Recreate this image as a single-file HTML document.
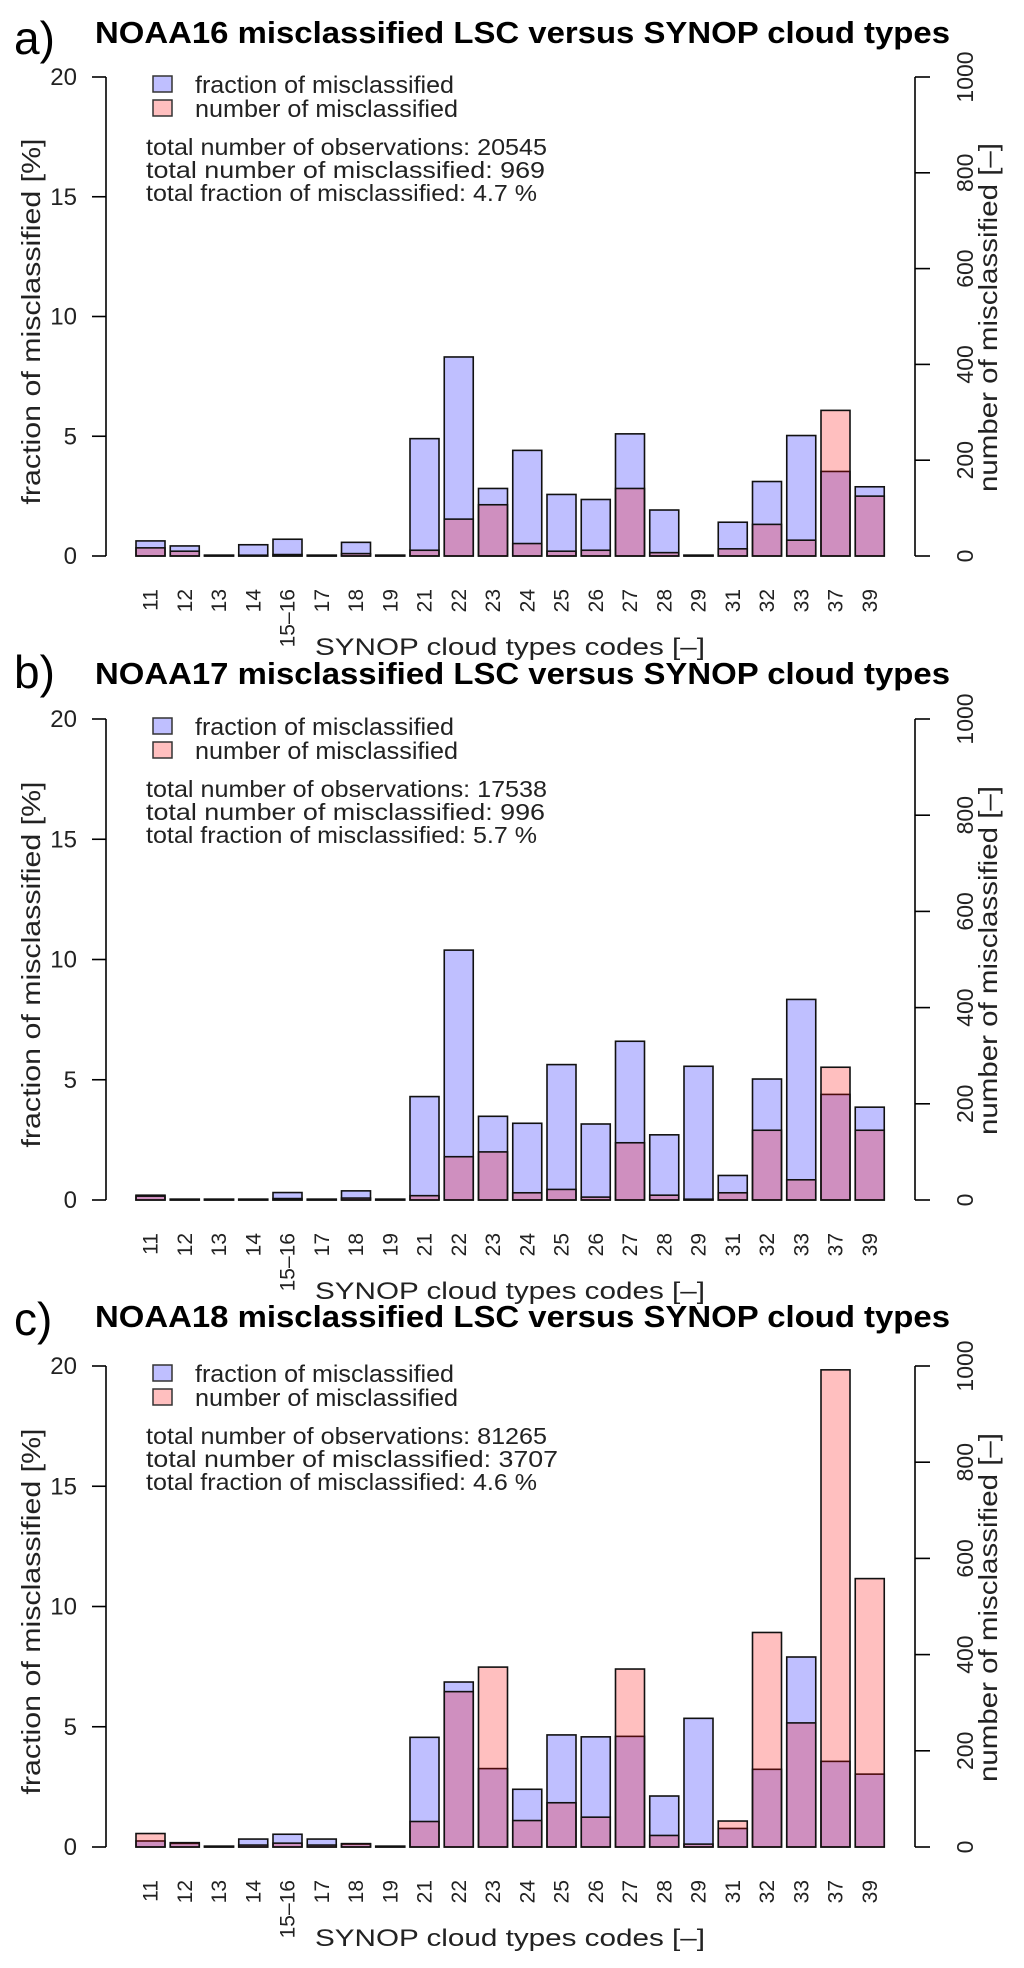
<!DOCTYPE html>
<html><head><meta charset="utf-8"><title>Misclassified LSC vs SYNOP cloud types</title>
<style>
html,body{margin:0;padding:0;background:#fff;}
svg{display:block;font-family:"Liberation Sans",sans-serif;}
</style></head>
<body>
<svg id="chart" width="1024" height="1968" viewBox="0 0 1024 1968" xmlns="http://www.w3.org/2000/svg"></svg>
<script>
const categories = ["11","12","13","14","15\u201316","17","18","19","21","22","23","24","25","26","27","28","29","31","32","33","37","39"];
const fracA  = [0.63,0.42,0,0.47,0.70,0,0.57,0,4.9,8.31,2.82,4.41,2.57,2.36,5.1,1.92,0,1.41,3.11,5.03,3.53,2.89];
const countA = [17,10,0,1,3,0,5,0,12,77,107,26,10,12,141,7,0,15,66,33,304,125];
const fracB  = [0.2,0,0,0,0.31,0,0.38,0,4.3,10.39,3.48,3.19,5.63,3.16,6.6,2.71,5.56,1.02,5.03,8.34,4.39,3.86];
const countB = [8,0,0,0,3,0,4,0,9,90,100,15,22,6,119,10,0,15,145,42,276,145];
const fracC  = [0.25,0.15,0,0.33,0.53,0.33,0.12,0,4.56,6.86,3.26,2.4,4.66,4.58,4.6,2.12,5.35,0.77,3.23,7.9,3.56,3.03];
const countC = [28,9,1,4,8,4,7,0,53,323,374,55,92,62,370,24,6,54,446,258,992,558];
const leftTicks = [0,5,10,15,20];
const rightTicks = [0,200,400,600,800,1000];
const panelLetters = ["a)","b)","c)"];
const panelTitles = ["NOAA16 misclassified LSC versus SYNOP cloud types","NOAA17 misclassified LSC versus SYNOP cloud types","NOAA18 misclassified LSC versus SYNOP cloud types"];
const statObs = ["20545","17538","81265"];
const statMis = ["969","996","3707"];
const statFrac = ["4.7","5.7","4.6"];

const NS = "http://www.w3.org/2000/svg";
const svg = document.getElementById("chart");
function mk(tag, attrs, parent, text){
  const e = document.createElementNS(NS, tag);
  for (const k in attrs) e.setAttribute(k, attrs[k]);
  if (text !== undefined) e.textContent = text;
  (parent || svg).appendChild(e);
  return e;
}
const panels = [
  {frac: fracA, count: countA, top: 77, zero: 556, titleY: 43, letterY: 54},
  {frac: fracB, count: countB, top: 719, zero: 1200, titleY: 684, letterY: 688},
  {frac: fracC, count: countC, top: 1366, zero: 1847, titleY: 1327, letterY: 1335}
];
const X0 = 136, PITCH = 34.25, BW = 29, AXL = 106, AXR = 915;

panels.forEach((p, pi) => {
  const g = mk("g", {});
  
  
  const yL = v => p.zero - (v / 20) * (p.zero - p.top);
  const yR = v => p.zero - (v / 1000) * (p.zero - p.top);
  const xB = i => X0 + i * PITCH;

  const lt = mk("text", {x: 14, y: p.letterY, "font-size": 46}, g, panelLetters[pi]);
  
  
  const tt = mk("text", {x: 95, y: p.titleY, "font-size": 31, "font-weight": "bold", textLength: 855, lengthAdjust: "spacingAndGlyphs"}, g, panelTitles[pi]);
  
  

  const la = mk("line", {x1: AXL, y1: yL(0), x2: AXL, y2: yL(20), stroke: "#000", "stroke-width": 1.6}, g);
  
  
  leftTicks.forEach(t => {
    const tk = mk("line", {x1: 92, y1: yL(t), x2: AXL, y2: yL(t), stroke: "#000", "stroke-width": 1.6}, g);
    
    
    const tl = mk("text", {x: 77, y: yL(t) + 8, "font-size": 24, "text-anchor": "end", fill: "#222"}, g, String(t));
    
    
  });
  const cy = (p.top + p.zero) / 2;
  const yt = mk("text", {x: 0, y: 0, "font-size": 26, "text-anchor": "middle", fill: "#222", transform: `translate(40 ${cy + 5}) rotate(-90)`, textLength: 366, lengthAdjust: "spacingAndGlyphs"}, g, "fraction of misclassified [%]");
  
  

  const ra = mk("line", {x1: AXR, y1: yR(0), x2: AXR, y2: yR(1000), stroke: "#000", "stroke-width": 1.6}, g);
  
  
  rightTicks.forEach(t => {
    const tk = mk("line", {x1: AXR, y1: yR(t), x2: 930, y2: yR(t), stroke: "#000", "stroke-width": 1.6}, g);
    
    
    const tl = mk("text", {x: 0, y: 0, "font-size": 23, "text-anchor": "middle", fill: "#222", transform: `translate(973 ${yR(t)}) rotate(-90)`}, g, String(t));
    
    
  });
  const rt = mk("text", {x: 0, y: 0, "font-size": 26, "text-anchor": "middle", fill: "#222", transform: `translate(997 ${cy + 1}) rotate(-90)`, textLength: 349, lengthAdjust: "spacingAndGlyphs"}, g, "number of misclassified [\u2013]");
  
  

  p.frac.forEach((v, i) => {
    const h = Math.max(0.8, p.zero - yL(v));
    const r = mk("rect", {x: xB(i), y: p.zero - h, width: BW, height: h, fill: "rgba(0,0,255,0.25)", stroke: "#111", "stroke-width": 1.6}, g);
    
    
  });
  p.count.forEach((v, i) => {
    const h = Math.max(0.8, p.zero - yR(v));
    const r = mk("rect", {x: xB(i), y: p.zero - h, width: BW, height: h, fill: "rgba(255,0,0,0.25)", stroke: "#111", "stroke-width": 1.6}, g);
    
    
  });

  categories.forEach((c, i) => {
    const cx = xB(i) + BW / 2 + 7;
    const tl = mk("text", {x: 0, y: 0, "font-size": 21, "text-anchor": "end", fill: "#222", transform: `translate(${cx} ${p.zero + 33}) rotate(-90)`}, g, c);
    
    
  });
  const xt = mk("text", {x: 315, y: p.zero + 99, "font-size": 24, fill: "#222", textLength: 390, lengthAdjust: "spacingAndGlyphs"}, g, "SYNOP cloud types codes [\u2013]");
  
  

  const lg = mk("g", {}, g);
  
  
  const b1 = mk("rect", {x: 153, y: p.top - 1, width: 19, height: 16, fill: "rgba(0,0,255,0.25)", stroke: "#333", "stroke-width": 1.5}, lg);
  
  
  const l1 = mk("text", {x: 195, y: p.top + 16, "font-size": 24, fill: "#222", textLength: 259, lengthAdjust: "spacingAndGlyphs"}, lg, "fraction of misclassified");
  
  
  const b2 = mk("rect", {x: 153, y: p.top + 23, width: 19, height: 16, fill: "rgba(255,0,0,0.25)", stroke: "#333", "stroke-width": 1.5}, lg);
  
  
  const l2 = mk("text", {x: 195, y: p.top + 40, "font-size": 24, fill: "#222", textLength: 263, lengthAdjust: "spacingAndGlyphs"}, lg, "number of misclassified");
  
  

  const s1 = mk("text", {x: 146, y: p.top + 78, "font-size": 23, fill: "#222", textLength: 401, lengthAdjust: "spacingAndGlyphs"}, g, "total number of observations: " + statObs[pi]);
  
  
  const s2 = mk("text", {x: 146, y: p.top + 101, "font-size": 23, fill: "#222", textLength: 360 + statMis[pi].length * 13, lengthAdjust: "spacingAndGlyphs"}, g, "total number of misclassified: " + statMis[pi]);
  
  
  const s3 = mk("text", {x: 146, y: p.top + 124, "font-size": 23, fill: "#222", textLength: 391, lengthAdjust: "spacingAndGlyphs"}, g, "total fraction of misclassified: " + statFrac[pi] + " %");
  
  
});
</script>
</body></html>
